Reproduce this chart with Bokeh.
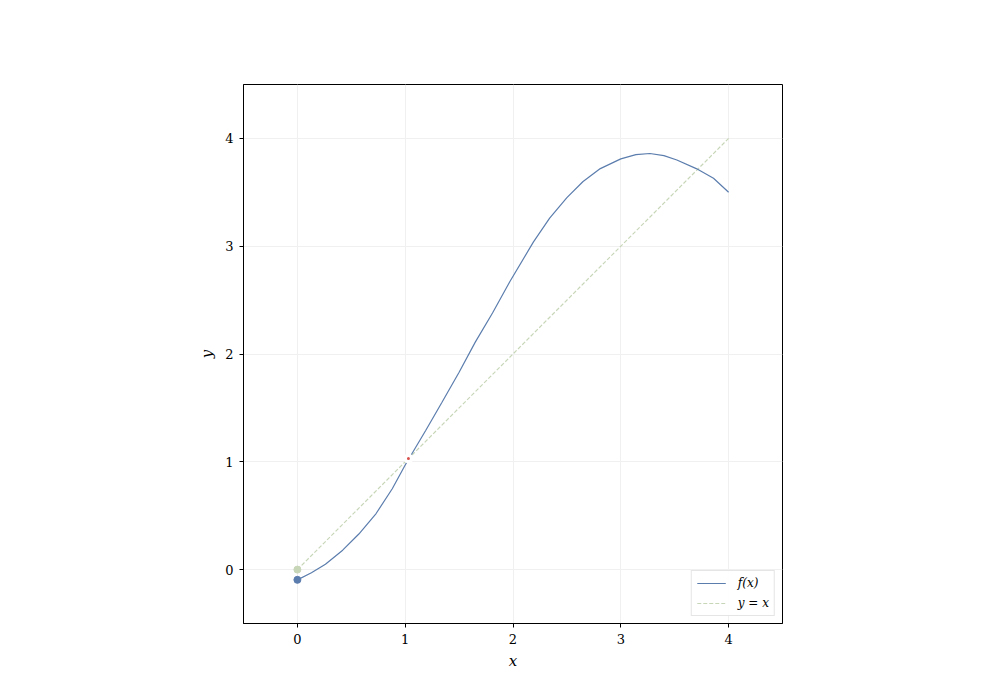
from bokeh.plotting import figure
from bokeh.models import FixedTicker, Legend, LegendItem
from bokeh.embed import file_html
from bokeh.resources import INLINE

# data
x_f = [0.0, 0.13, 0.26, 0.42, 0.57, 0.73, 0.88, 1.0, 1.19, 1.34, 1.50, 1.65, 1.81, 1.97,
       2.19, 2.34, 2.50, 2.65, 2.81, 3.00, 3.14, 3.27, 3.40, 3.52, 3.70, 3.86, 4.0]
y_f = [-0.095, -0.03, 0.05, 0.18, 0.33, 0.52, 0.75, 0.97, 1.29, 1.55, 1.83, 2.11, 2.38, 2.67,
       3.04, 3.26, 3.45, 3.60, 3.72, 3.81, 3.85, 3.86, 3.84, 3.80, 3.72, 3.63, 3.50]
x_id = [0.0, 4.0]
y_id = [0.0, 4.0]
fixed_x = [1.03]
fixed_y = [1.03]
start_x = [0.0]
start_f = [-0.095]
start_id = [0.0]
ticks = [0, 1, 2, 3, 4]
labels = ["f(x)", "y = x"]

BLUE = "#5b7dad"
GREEN = "#c8d6b8"
FONT = "DejaVu Serif"

W, H = 984, 684
p = figure(width=W, height=H, x_range=(-0.5, 4.5), y_range=(-0.5, 4.5),
           output_backend="svg", toolbar_location=None,
           min_border_left=243, min_border_top=84,
           min_border_right=W - 782, min_border_bottom=H - 623)
p.outline_line_color = "black"
p.outline_line_width = 1
p.background_fill_color = "white"
p.border_fill_color = "white"

for ax in (p.xaxis, p.yaxis):
    ax.ticker = FixedTicker(ticks=ticks)
    ax.major_label_text_font = FONT
    ax.major_label_text_font_size = "13px"
    ax.major_label_text_color = "black"
    ax.axis_label_text_font = FONT
    ax.axis_label_text_font_style = "italic"
    ax.axis_label_text_font_size = "15px"
    ax.axis_label_text_color = "black"
    ax.major_tick_out = 4
    ax.major_tick_in = 0
    ax.minor_tick_line_color = None
    ax.axis_line_color = "black"
p.xaxis.axis_label = "x"
p.yaxis.axis_label = "y"
p.xaxis.major_label_standoff = 6
p.yaxis.major_label_standoff = 6
p.xaxis.axis_label_standoff = 5
p.yaxis.axis_label_standoff = 6

p.xgrid.ticker = FixedTicker(ticks=ticks)
p.ygrid.ticker = FixedTicker(ticks=ticks)
p.grid.grid_line_color = "#f0f0f0"
p.grid.grid_line_width = 1

r_id = p.line(x_id, y_id, line_color=GREEN, line_width=1.2, line_dash="4 2")
r_f = p.line(x_f, y_f, line_color=BLUE, line_width=1.2)
p.scatter(start_x, start_id, size=7, fill_color=GREEN, line_color=GREEN)
p.scatter(start_x, start_f, size=7, fill_color=BLUE, line_color=BLUE)
p.scatter(fixed_x, fixed_y, size=10, fill_color="white", line_color=None)
p.scatter(fixed_x, fixed_y, size=3, fill_color="#d9534f", line_color=None)

legend = Legend(items=[LegendItem(label=labels[0], renderers=[r_f]),
                       LegendItem(label=labels[1], renderers=[r_id])],
                location="bottom_right")
legend.label_text_font = FONT
legend.label_text_font_style = "italic"
legend.label_text_font_size = "12px"
legend.label_text_color = "black"
legend.border_line_color = "#cccccc"
legend.border_line_width = 1
legend.background_fill_alpha = 0.9
legend.glyph_width = 29
legend.glyph_height = 14
legend.spacing = 6
legend.padding = 5
legend.margin = 7
legend.label_standoff = 12
p.add_layout(legend)

open("out.html", "w").write(file_html(p, INLINE))
